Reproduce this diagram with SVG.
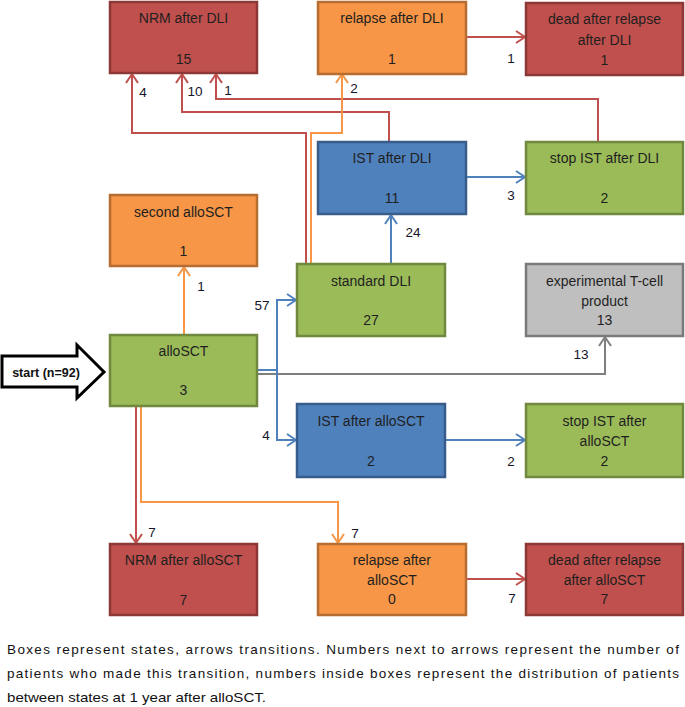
<svg xmlns="http://www.w3.org/2000/svg" width="685" height="707" viewBox="0 0 685 707">
<style>
.box{stroke-width:2.5}
.red{fill:#C0504D;stroke:#8C3836}
.orange{fill:#F79646;stroke:#B66D31}
.green{fill:#9BBB59;stroke:#71893F}
.blue{fill:#4F81BD;stroke:#385D8A}
.gray{fill:#BFBFBF;stroke:#7A7A7A}
.t{font-family:"Liberation Sans",Arial,sans-serif;font-size:14px;fill:#1F1F1F;text-anchor:middle}
.lbl{font-family:"Liberation Sans",Arial,sans-serif;font-size:13.5px;fill:#15152A;text-anchor:middle}
.cap{font-family:"Liberation Sans",Arial,sans-serif;font-size:13.5px;fill:#111}
.c{fill:none;stroke-width:2}
.cr{stroke:#C0504D;marker-end:url(#mr)}
.co{stroke:#F79646;marker-end:url(#mo)}
.cb{stroke:#4F81BD;marker-end:url(#mb)}
.cg{stroke:#7F7F7F;marker-end:url(#mg)}
</style>
<defs>
<marker id="mr" markerUnits="userSpaceOnUse" markerWidth="14" markerHeight="16" refX="10" refY="7" orient="auto"><path d="M1,1 L10,7 L1,13" fill="none" stroke="#C0504D" stroke-width="2"/></marker>
<marker id="mo" markerUnits="userSpaceOnUse" markerWidth="14" markerHeight="16" refX="10" refY="7" orient="auto"><path d="M1,1 L10,7 L1,13" fill="none" stroke="#F79646" stroke-width="2"/></marker>
<marker id="mb" markerUnits="userSpaceOnUse" markerWidth="14" markerHeight="16" refX="10" refY="7" orient="auto"><path d="M1,1 L10,7 L1,13" fill="none" stroke="#4F81BD" stroke-width="2"/></marker>
<marker id="mg" markerUnits="userSpaceOnUse" markerWidth="14" markerHeight="16" refX="10" refY="7" orient="auto"><path d="M1,1 L10,7 L1,13" fill="none" stroke="#7F7F7F" stroke-width="2"/></marker>
</defs>
<rect width="685" height="707" fill="#FFFFFF"/>

<g id="connectors">
<path class="c cr" d="M466,37 H525"/>
<path class="c co" d="M184,335 V267"/>
<path class="c cg" d="M257,374 H605 V337"/>
<path class="c cb" d="M257,370 H277 V300 H296"/>
<path class="c cb" d="M277,370 V440 H296"/>
<path class="c cb" d="M445,440 H525"/>
<path class="c cb" d="M391,264 V215"/>
<path class="c cb" d="M466,177 H525"/>
<path class="c cr" d="M306,264 V133 H132 V74"/>
<path class="c cr" d="M389,142 V112 H182 V74"/>
<path class="c cr" d="M598,142 V99 H216 V74"/>
<path class="c co" d="M311,264 V133 H342 V74"/>
<path class="c cr" d="M136,406 V543"/>
<path class="c co" d="M141,406 V502 H338 V543"/>
<path class="c cr" d="M466,579 H525"/>
<text class="lbl" x="511" y="63">1</text>
<text class="lbl" x="201" y="291">1</text>
<text class="lbl" x="262" y="310">57</text>
<text class="lbl" x="266" y="440">4</text>
<text class="lbl" x="581" y="359">13</text>
<text class="lbl" x="511" y="466">2</text>
<text class="lbl" x="413" y="237">24</text>
<text class="lbl" x="511" y="200">3</text>
<text class="lbl" x="143" y="97">4</text>
<text class="lbl" x="195" y="96">10</text>
<text class="lbl" x="228" y="95">1</text>
<text class="lbl" x="354" y="93">2</text>
<text class="lbl" x="152" y="537">7</text>
<text class="lbl" x="355" y="538">7</text>
<text class="lbl" x="512" y="603">7</text>
</g>

<g id="start">
<path d="M2,356 H77 V345 L104,372 L77,398 V387 H2 Z" fill="#FFFFFF" stroke="#000" stroke-width="3" stroke-linejoin="miter"/>
<text x="46" y="377" font-family="'Liberation Sans',Arial,sans-serif" font-size="12.5" font-weight="bold" text-anchor="middle" fill="#111">start (n=92)</text>
</g>

<g id="nrm-dli"><rect class="box red" x="110" y="2" width="147" height="71"/><text class="t" x="183.5" y="23">NRM after DLI</text><text class="t" x="183.5" y="64">15</text></g>
<g id="relapse-dli"><rect class="box orange" x="318" y="2" width="148" height="72"/><text class="t" x="392" y="23">relapse after DLI</text><text class="t" x="392" y="64">1</text></g>
<g id="dead-relapse-dli"><rect class="box red" x="526" y="3" width="157" height="72"/><text class="t" x="604.5" y="24">dead after relapse</text><text class="t" x="604.5" y="45">after DLI</text><text class="t" x="604.5" y="65">1</text></g>
<g id="ist-dli"><rect class="box blue" x="318" y="142" width="148" height="72"/><text class="t" x="392" y="163">IST after DLI</text><text class="t" x="392" y="203">11</text></g>
<g id="stop-ist-dli"><rect class="box green" x="526" y="142" width="157" height="72"/><text class="t" x="604.5" y="163">stop IST after DLI</text><text class="t" x="604.5" y="203">2</text></g>
<g id="second-allosct"><rect class="box orange" x="110" y="195" width="147" height="71"/><text class="t" x="183.5" y="217">second alloSCT</text><text class="t" x="183.5" y="256">1</text></g>
<g id="standard-dli"><rect class="box green" x="297" y="264" width="148" height="72"/><text class="t" x="371" y="286">standard DLI</text><text class="t" x="371" y="325">27</text></g>
<g id="experimental"><rect class="box gray" x="526" y="264" width="157" height="72"/><text class="t" x="604.5" y="286">experimental T-cell</text><text class="t" x="604.5" y="306">product</text><text class="t" x="604.5" y="325">13</text></g>
<g id="allosct"><rect class="box green" x="110" y="335" width="147" height="71"/><text class="t" x="183.5" y="356">alloSCT</text><text class="t" x="183.5" y="395">3</text></g>
<g id="ist-allosct"><rect class="box blue" x="297" y="404" width="148" height="73"/><text class="t" x="371" y="426">IST after alloSCT</text><text class="t" x="371" y="466">2</text></g>
<g id="stop-ist-allosct"><rect class="box green" x="526" y="404" width="157" height="73"/><text class="t" x="604.5" y="426">stop IST after</text><text class="t" x="604.5" y="446">alloSCT</text><text class="t" x="604.5" y="466">2</text></g>
<g id="nrm-allosct"><rect class="box red" x="110" y="544" width="147" height="71"/><text class="t" x="183.5" y="565">NRM after alloSCT</text><text class="t" x="183.5" y="605">7</text></g>
<g id="relapse-allosct"><rect class="box orange" x="318" y="544" width="148" height="71"/><text class="t" x="392" y="565">relapse after</text><text class="t" x="392" y="585">alloSCT</text><text class="t" x="392" y="604">0</text></g>
<g id="dead-relapse-allosct"><rect class="box red" x="526" y="544" width="157" height="71"/><text class="t" x="604.5" y="565">dead after relapse</text><text class="t" x="604.5" y="585">after alloSCT</text><text class="t" x="604.5" y="604">7</text></g>

<g id="caption">
<text class="cap" x="7" y="654" textLength="672" lengthAdjust="spacing">Boxes represent states, arrows transitions. Numbers next to arrows represent the number of</text>
<text class="cap" x="7" y="678" textLength="672" lengthAdjust="spacing">patients who made this transition, numbers inside boxes represent the distribution of patients</text>
<text class="cap" x="7" y="702" textLength="259" lengthAdjust="spacingAndGlyphs">between states at 1 year after alloSCT.</text>
</g>
</svg>
